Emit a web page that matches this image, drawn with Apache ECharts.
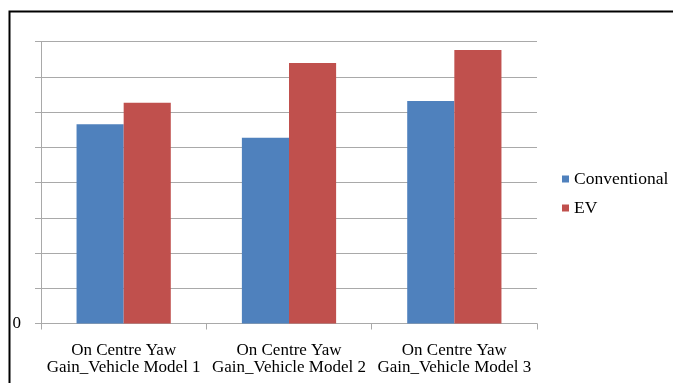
<!DOCTYPE html>
<html>
<head>
<meta charset="utf-8">
<script src="https://cdn.jsdelivr.net/npm/echarts@6/dist/echarts.min.js"></script>
<style>
  html, body { margin: 0; padding: 0; background: #ffffff; }
  #chart { width: 673px; height: 383px; }
</style>
</head>
<body>
<div id="chart"></div>
<script>
// Chart data
const categories = [
  'On Centre Yaw\nGain_Vehicle Model 1',
  'On Centre Yaw\nGain_Vehicle Model 2',
  'On Centre Yaw\nGain_Vehicle Model 3'
];
const conventional = [5.65, 5.27, 6.31];
const ev = [6.26, 7.39, 7.76];
const seriesNames = ['Conventional', 'EV'];

const FONT = '"Liberation Serif", "DejaVu Serif", serif';
const GRID_COLOR = '#a9a9a9';

const chart = echarts.init(document.getElementById('chart'), null, { renderer: 'canvas' });

chart.setOption({
  backgroundColor: '#ffffff',
  animation: false,
  grid: { left: 41, right: 136, top: 41.5, bottom: 59.5, containLabel: false },
  legend: {
    data: seriesNames,
    orient: 'vertical',
    left: 557,
    top: 165,
    itemWidth: 7,
    itemHeight: 7,
    itemGap: 11,
    icon: 'rect',
    textStyle: { fontFamily: FONT, fontSize: 17.5, color: '#000000', lineHeight: 18 }
  },
  xAxis: {
    type: 'category',
    data: categories,
    axisLine: { lineStyle: { color: GRID_COLOR, width: 1 } },
    axisTick: { show: true, length: 6, lineStyle: { color: GRID_COLOR } },
    axisLabel: {
      interval: 0,
      margin: 19,
      fontFamily: FONT,
      fontSize: 17,
      lineHeight: 17,
      color: '#000000'
    },
    splitLine: { show: false }
  },
  yAxis: {
    type: 'value',
    min: 0,
    max: 8,
    interval: 1,
    axisLine: { show: true, lineStyle: { color: GRID_COLOR, width: 1 } },
    axisTick: { show: true, length: 6, lineStyle: { color: GRID_COLOR } },
    axisLabel: {
      margin: 20,
      fontFamily: FONT,
      fontSize: 17,
      color: '#000000',
      formatter: function (v) { return v === 0 ? '0' : ''; }
    },
    splitLine: { show: true, lineStyle: { color: GRID_COLOR, width: 1 } }
  },
  series: [
    {
      name: seriesNames[0],
      type: 'bar',
      data: conventional,
      barGap: '0%',
      barCategoryGap: '43%',
      itemStyle: { color: '#4F81BD' }
    },
    {
      name: seriesNames[1],
      type: 'bar',
      data: ev,
      barGap: '0%',
      barCategoryGap: '43%',
      itemStyle: { color: '#C0504D' }
    }
  ],
  graphic: [
    {
      type: 'rect',
      left: 7,
      top: 9,
      shape: { x: 0, y: 0, width: 720, height: 420 },
      style: { fill: null, stroke: '#000000', lineWidth: 2 },
      silent: true
    }
  ]
});
</script>
</body>
</html>
